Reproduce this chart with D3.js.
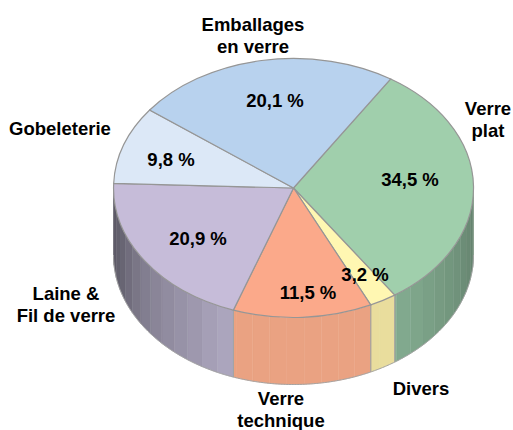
<!DOCTYPE html>
<html>
<head>
<meta charset="utf-8">
<script src="https://cdn.jsdelivr.net/npm/d3@7"></script>
<style>
    body { margin: 0; background: #fff; }
    text { font-family: "Liberation Sans", Arial, sans-serif; font-weight: bold; font-size: 18.5px; fill: #000; text-anchor: middle; }
</style>
</head>
<body>
<script>
// Slices clockwise, starting from the Emballages / Verre plat border
var categories = ["Verre plat", "Divers", "Verre technique", "Laine & Fil de verre", "Gobeleterie", "Emballages en verre"];
var shareLabels = ["34,5 %", "3,2 %", "11,5 %", "20,9 %", "9,8 %", "20,1 %"];
// Sweep of each slice in degrees as drawn (the picture does not follow the printed shares exactly)
var drawnSweep = [113.1, 8.8, 44.9, 72.5, 35, 85.7];
var faceColors = ["#a0cfac", "#fff7b2", "#fba98a", "#c6bcd9", "#dce8f7", "#b8d2ee"];
var wallColors = ["#85ae92", "#e9dd9d", "#eaa282", "#aea8c0", "#9aa3ae", "#8294a8"];

// Label placement, one line per tspan
var nameLines = [["Verre", "plat"], ["Divers"], ["Verre", "technique"], ["Laine &", "Fil de verre"], ["Gobeleterie"], ["Emballages", "en verre"]];
var namePos = [[488, 115], [421, 395], [281, 405], [66, 300], [60, 135], [253, 31]];
var sharePos = [[410, 186], [365, 281], [308, 299], [198, 245], [171, 166], [275, 107]];

var w = 513, h = 430;
var cx = 293.5, cy = 188, rx = 180, ry = 129.5, depth = 67;
var rad = Math.PI / 180;

var svg = d3.select("body").append("svg")
    .attr("width", w)
    .attr("height", h);

var pie = d3.pie()
    .sort(null)
    .value(function(d){ return d; })
    .startAngle(32.7 * rad)
    .endAngle((32.7 + 360) * rad);

var slices = pie(drawnSweep);

// Wall darkening towards both sides of the pie, by angle in degrees
var shade = d3.scaleLinear()
    .domain([90, 148, 200, 233, 254, 270])
    .range([0.72, 1, 1, 0.77, 0.58, 0.5]);

function px(a){ return cx + rx * Math.sin(a * rad); }
function py(a){ return cy - ry * Math.cos(a * rad); }

var wallArea = d3.area()
    .x(function(a){ return px(a); })
    .y0(function(a){ return py(a); })
    .y1(function(a){ return py(a) + depth; });

var wall = svg.append("g").attr("class", "wall");
var step = 5.5;

slices.forEach(function(s, i){
    var a0 = Math.max(90, s.startAngle / rad);
    var a1 = Math.min(270, s.endAngle / rad);
    if (a1 <= a0) return;
    var base = d3.rgb(wallColors[i]);

    // Facets of the wall
    var from = a0;
    while (from < a1) {
        var to = Math.min(a1, from + step);
        var k = shade((from + to) / 2);
        var c = d3.rgb(base.r * k, base.g * k, base.b * k);
        wall.append("path")
            .attr("d", wallArea(d3.range(from, to, 0.5).concat([to])))
            .attr("fill", c)
            .attr("stroke", c)
            .attr("stroke-width", 0.4);
        from = to;
    }

    // Outline of this slice's wall
    var pts = d3.range(a0, a1, 0.5).concat([a1]);
    wall.append("path")
        .attr("d", d3.line().x(px).y(function(a){ return py(a) + depth; })(pts))
        .attr("fill", "none")
        .attr("stroke", "#a3a3a3")
        .attr("stroke-width", 1);
    [a0, a1].forEach(function(a){
        if (a === 90 || a === 270) return;
        wall.append("line")
            .attr("x1", px(a)).attr("x2", px(a))
            .attr("y1", py(a)).attr("y2", py(a) + depth)
            .attr("stroke", "#a3a3a3")
            .attr("stroke-width", 1);
    });
});

// Top face: unit arcs squeezed to an ellipse
var arc = d3.arc().innerRadius(0).outerRadius(1);

svg.append("g")
    .attr("class", "faces")
    .attr("transform", "translate(" + cx + "," + cy + ") scale(" + rx + "," + ry + ")")
    .selectAll("path")
    .data(slices)
    .enter()
    .append("path")
    .attr("d", arc)
    .attr("fill", function(d, i){ return faceColors[i]; })
    .attr("stroke", "#969696")
    .attr("stroke-width", 1.2)
    .attr("vector-effect", "non-scaling-stroke");

// Percent labels
svg.append("g")
    .selectAll("text")
    .data(shareLabels)
    .enter()
    .append("text")
    .attr("x", function(d, i){ return sharePos[i][0]; })
    .attr("y", function(d, i){ return sharePos[i][1]; })
    .text(function(d){ return d; });

// Category labels
var names = svg.append("g")
    .selectAll("text")
    .data(categories)
    .enter()
    .append("text")
    .attr("aria-label", function(d){ return d; })
    .attr("y", function(d, i){ return namePos[i][1]; });

names.selectAll("tspan")
    .data(function(d, i){
        return nameLines[i].map(function(t){ return { t: t, x: namePos[i][0] }; });
    })
    .enter()
    .append("tspan")
    .attr("x", function(d){ return d.x; })
    .attr("dy", function(d, j){ return j ? 21.5 : 0; })
    .text(function(d){ return d.t; });
</script>
</body>
</html>
